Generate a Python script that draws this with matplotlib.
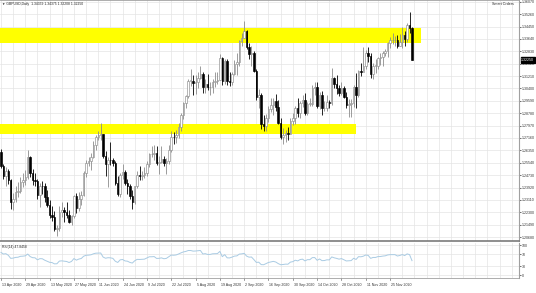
import numpy as np
import pandas as pd
import matplotlib
matplotlib.use("Agg")
import matplotlib.pyplot as plt
import matplotlib.transforms as mtransforms

plt.rcParams["font.family"] = ["Liberation Sans", "DejaVu Sans"]

# closes of the two weeks before the chart, only used to warm up the RSI
pre_closes = [1.1580, 1.1745, 1.1875, 1.2195, 1.2450, 1.2390, 1.2410, 1.2410,
              1.2405, 1.2265, 1.2265, 1.2355, 1.2405, 1.2455, 1.2455, 1.2625]

# GBPUSD daily bars, mid Apr 2020 - 7 Dec 2020 (one bar per weekday)
first_open = 1.2625
closes = [
    1.2530, 1.2470, 1.2500, 1.2440, 1.2300, 1.2315, 1.2360, 1.2370, 1.2430, 1.2440,
    1.2460, 1.2590, 1.2490, 1.2440, 1.2435, 1.2340, 1.2405, 1.2400, 1.2330, 1.2275,
    1.2215, 1.2200, 1.2120, 1.2125, 1.2235, 1.2245, 1.2230, 1.2215, 1.2165, 1.2205,
    1.2335, 1.2260, 1.2315, 1.2345, 1.2485, 1.2555, 1.2565, 1.2590, 1.2670, 1.2725,
    1.2735, 1.2740, 1.2595, 1.2545, 1.2575, 1.2570, 1.2550, 1.2420, 1.2350, 1.2475,
    1.2495, 1.2420, 1.2405, 1.2335, 1.2295, 1.2400, 1.2475, 1.2470, 1.2475, 1.2485,
    1.2545, 1.2610, 1.2610, 1.2620, 1.2555, 1.2560, 1.2580, 1.2550, 1.2565, 1.2635,
    1.2725, 1.2720, 1.2735, 1.2790, 1.2865, 1.2945, 1.2990, 1.3090, 1.3090, 1.3075,
    1.3085, 1.3110, 1.3135, 1.3050, 1.3070, 1.3050, 1.3050, 1.3085, 1.3090, 1.3095,
    1.3240, 1.3090, 1.3220, 1.3090, 1.3085, 1.3135, 1.3200, 1.3215, 1.3350, 1.3370,
    1.3415, 1.3310, 1.3265, 1.3275, 1.3155, 1.2985, 1.2995, 1.2805, 1.2795, 1.2850,
    1.2905, 1.2935, 1.2960, 1.2920, 1.2815, 1.2725, 1.2735, 1.2750, 1.2745, 1.2830,
    1.2850, 1.2915, 1.2880, 1.2945, 1.2965, 1.2880, 1.2940, 1.2940, 1.3045, 1.3050,
    1.2925, 1.2995, 1.2910, 1.2915, 1.2950, 1.2945, 1.3110, 1.3070, 1.3045, 1.3010,
    1.3040, 1.2985, 1.2930, 1.2940, 1.2945, 1.3050, 1.3000, 1.3155, 1.3150, 1.3190,
    1.3270, 1.3255, 1.3135, 1.3190, 1.3190, 1.3240, 1.3245, 1.3270, 1.3285, 1.3335,
    1.3355, 1.3355, 1.3355, 1.3320, 1.3345, 1.3390, 1.3365, 1.3455, 1.3435, 1.3225,
]
highs = [
    1.2647, 1.2545, 1.2525, 1.2515, 1.2445, 1.2355, 1.2405, 1.2425, 1.2460, 1.2485,
    1.2505, 1.2640, 1.2600, 1.2510, 1.2485, 1.2450, 1.2420, 1.2435, 1.2420, 1.2375,
    1.2310, 1.2270, 1.2240, 1.2145, 1.2270, 1.2295, 1.2265, 1.2295, 1.2245, 1.2210,
    1.2345, 1.2355, 1.2360, 1.2370, 1.2500, 1.2575, 1.2590, 1.2615, 1.2695, 1.2735,
    1.2765, 1.2813, 1.2745, 1.2630, 1.2590, 1.2690, 1.2585, 1.2565, 1.2465, 1.2490,
    1.2545, 1.2505, 1.2445, 1.2415, 1.2375, 1.2405, 1.2500, 1.2530, 1.2500, 1.2525,
    1.2565, 1.2615, 1.2665, 1.2670, 1.2665, 1.2595, 1.2665, 1.2600, 1.2585, 1.2670,
    1.2765, 1.2755, 1.2770, 1.2815, 1.2880, 1.2950, 1.3000, 1.3100, 1.3170, 1.3125,
    1.3125, 1.3145, 1.3185, 1.3145, 1.3105, 1.3135, 1.3080, 1.3105, 1.3145, 1.3145,
    1.3265, 1.3245, 1.3230, 1.3230, 1.3145, 1.3145, 1.3225, 1.3275, 1.3355, 1.3400,
    1.3482, 1.3420, 1.3335, 1.3320, 1.3285, 1.3165, 1.3035, 1.3010, 1.2865, 1.2870,
    1.2925, 1.2980, 1.2975, 1.3005, 1.2965, 1.2850, 1.2780, 1.2770, 1.2785, 1.2850,
    1.2880, 1.2925, 1.2975, 1.2955, 1.3000, 1.3010, 1.2950, 1.2980, 1.3065, 1.3085,
    1.3080, 1.3015, 1.3025, 1.2955, 1.3000, 1.2965, 1.3175, 1.3115, 1.3125, 1.3065,
    1.3080, 1.3055, 1.3015, 1.2970, 1.2970, 1.3060, 1.3140, 1.3160, 1.3210, 1.3312,
    1.3290, 1.3310, 1.3275, 1.3205, 1.3235, 1.3245, 1.3270, 1.3285, 1.3300, 1.3345,
    1.3375, 1.3400, 1.3385, 1.3390, 1.3395, 1.3440, 1.3415, 1.3470, 1.3540, 1.3440,
]
lows = [
    1.2520, 1.2445, 1.2405, 1.2415, 1.2250, 1.2245, 1.2300, 1.2330, 1.2355, 1.2395,
    1.2410, 1.2450, 1.2460, 1.2410, 1.2405, 1.2320, 1.2265, 1.2350, 1.2300, 1.2265,
    1.2190, 1.2170, 1.2105, 1.2076, 1.2110, 1.2200, 1.2165, 1.2190, 1.2160, 1.2145,
    1.2190, 1.2225, 1.2240, 1.2280, 1.2335, 1.2460, 1.2530, 1.2505, 1.2585, 1.2640,
    1.2700, 1.2700, 1.2585, 1.2470, 1.2395, 1.2540, 1.2530, 1.2410, 1.2335, 1.2330,
    1.2450, 1.2410, 1.2350, 1.2320, 1.2252, 1.2285, 1.2390, 1.2440, 1.2440, 1.2455,
    1.2470, 1.2525, 1.2590, 1.2575, 1.2540, 1.2480, 1.2550, 1.2530, 1.2480, 1.2545,
    1.2625, 1.2675, 1.2685, 1.2715, 1.2765, 1.2840, 1.2915, 1.2980, 1.3055, 1.3000,
    1.3005, 1.3045, 1.3105, 1.3010, 1.3010, 1.3030, 1.3000, 1.3010, 1.3050, 1.3070,
    1.3095, 1.3065, 1.3070, 1.3060, 1.3055, 1.3065, 1.3130, 1.3125, 1.3190, 1.3315,
    1.3370, 1.3300, 1.3235, 1.3185, 1.3150, 1.2965, 1.2915, 1.2775, 1.2765, 1.2765,
    1.2820, 1.2885, 1.2865, 1.2890, 1.2805, 1.2710, 1.2676, 1.2690, 1.2705, 1.2745,
    1.2800, 1.2805, 1.2855, 1.2845, 1.2920, 1.2865, 1.2865, 1.2925, 1.2925, 1.3000,
    1.2915, 1.2905, 1.2865, 1.2890, 1.2895, 1.2915, 1.2935, 1.3040, 1.3005, 1.2990,
    1.3000, 1.2975, 1.2915, 1.2855, 1.2855, 1.2920, 1.2915, 1.2985, 1.3120, 1.3160,
    1.3165, 1.3215, 1.3110, 1.3105, 1.3140, 1.3170, 1.3195, 1.3185, 1.3250, 1.3245,
    1.3305, 1.3330, 1.3320, 1.3305, 1.3315, 1.3305, 1.3315, 1.3345, 1.3400, 1.3225,
]

date_labels = ["13 Apr 2020", "29 Apr 2020", "13 May 2020", "27 May 2020",
               "11 Jun 2020", "24 Jun 2020", "9 Jul 2020", "22 Jul 2020",
               "5 Aug 2020", "19 Aug 2020", "2 Sep 2020", "16 Sep 2020",
               "30 Sep 2020", "14 Oct 2020", "28 Oct 2020", "11 Nov 2020",
               "25 Nov 2020"]
date_bars = [0, 10, 20, 30, 40, 50, 60, 70, 80, 90, 100, 110, 120, 130, 140, 150, 160]

price_ticks = [1.36070, 1.35260, 1.34450, 1.33640, 1.32830, 1.32020, 1.31210,
               1.30400, 1.29590, 1.28780, 1.27970, 1.27160, 1.26350, 1.25540,
               1.24730, 1.23920, 1.23110, 1.22300, 1.21490, 1.20680]

# support / resistance boxes: (low, high, last bar)
upper_zone = (1.3337, 1.3435, 172.5)
lower_zone = (1.2742, 1.2807, 146.0)

rsi_period = 14
rsi_ticks = [100, 70, 30, 0]

# --- data prep
closes = np.array(closes)
highs = np.array(highs)
lows = np.array(lows)
opens = np.concatenate([[first_open], closes[:-1]])
bars = np.arange(len(closes))

all_closes = pd.Series(np.concatenate([pre_closes, closes]))
delta = all_closes.diff().fillna(0)
gain = delta.clip(lower=0).ewm(alpha=1 / rsi_period, adjust=False).mean()
loss = (-delta.clip(upper=0)).ewm(alpha=1 / rsi_period, adjust=False).mean()
rsi = (100 - 100 / (1 + gain / loss.replace(0, np.nan))).values[len(pre_closes):]

W, H = 536, 293
fig = plt.figure(figsize=(W / 100, H / 100), dpi=100)
fig.patch.set_facecolor("white")

ax = fig.add_axes([0, 1 - 241 / H, 519 / W, 241 / H])
ax_rsi = fig.add_axes([0, 1 - 278 / H, 519 / W, 35 / H], sharex=ax)

grid_kw = dict(color="#e4e4e4", linewidth=0.5)
x_min, x_max = -0.4, 213.0
fs = 2.6

# --- price panel
ax.set_xlim(x_min, x_max)
ax.set_ylim(1.2042, 1.3619)
ax.set_facecolor("white")

for lo, hi, end in (upper_zone, lower_zone):
    ax.fill_between([x_min, end], lo, hi, color="#ffff00", zorder=1, linewidth=0)

up = closes >= opens
body_lo = np.minimum(opens, closes)
body_h = np.maximum(np.abs(closes - opens), 0.00025)
ax.vlines(bars[up], lows[up], highs[up], color="#8c8c8c", linewidth=0.6, zorder=2)
ax.vlines(bars[~up], lows[~up], highs[~up], color="black", linewidth=0.6, zorder=2)
ax.bar(bars[up], body_h[up], bottom=body_lo[up], width=0.62,
       facecolor="white", edgecolor="#8c8c8c", linewidth=0.45, zorder=3)
ax.bar(bars[~up], body_h[~up], bottom=body_lo[~up], width=0.62,
       facecolor="black", edgecolor="black", linewidth=0.45, zorder=3)

ax.yaxis.tick_right()
ax.set_yticks(price_ticks)
ax.set_yticklabels([f"{p:.5f}" for p in price_ticks])
ax.tick_params(axis="y", length=1.5, width=0.5, pad=0.8, labelsize=fs,
               colors="#333333")
ax.set_xticks(np.arange(0, x_max, 5))
ax.tick_params(axis="x", length=0, labelbottom=False)
ax.grid(True, **grid_kw)
ax.set_axisbelow(True)
ax.spines["left"].set_visible(False)
ax.spines["top"].set_color("#a0a0a0")
ax.spines["top"].set_linewidth(0.6)
ax.spines["right"].set_color("#a0a0a0")
ax.spines["right"].set_linewidth(0.8)
ax.spines["bottom"].set_color("#707070")
ax.spines["bottom"].set_linewidth(1.1)

ax.text(0.004, 0.992, "\u25bc GBPUSD,Daily  1.34359 1.34375 1.32208 1.32250",
        transform=ax.transAxes, fontsize=2.4, va="top", ha="left", color="#222222")
ax.text(0.99, 0.99, "Smart Orders", transform=ax.transAxes, fontsize=fs,
        va="top", ha="right", color="#222222")

last_price = closes[-1]
ax.annotate(f"{last_price:.5f}", xy=(1.0, last_price),
            xycoords=("axes fraction", "data"), xytext=(1.6, 0),
            textcoords="offset points", va="center", ha="left", fontsize=fs,
            color="white", annotation_clip=False,
            bbox=dict(boxstyle="square,pad=0.2", facecolor="black", edgecolor="black"))

# --- RSI panel
ax_rsi.set_ylim(-10, 106.7)
ax_rsi.plot(bars, rsi, color="#a9cbe3", linewidth=0.7)
ax_rsi.yaxis.tick_right()
ax_rsi.set_yticks(rsi_ticks)
ax_rsi.set_yticklabels([str(v) for v in rsi_ticks])
ax_rsi.tick_params(axis="y", length=1.5, width=0.5, pad=0.8, labelsize=fs,
                   colors="#333333")
ax_rsi.tick_params(axis="x", length=0, labelbottom=False)
ax_rsi.grid(True, **grid_kw)
ax_rsi.set_axisbelow(True)
ax_rsi.spines["left"].set_visible(False)
ax_rsi.spines["top"].set_visible(False)
ax_rsi.spines["right"].set_color("#a0a0a0")
ax_rsi.spines["right"].set_linewidth(0.8)
ax_rsi.spines["bottom"].set_color("#a0a0a0")
ax_rsi.spines["bottom"].set_linewidth(0.6)
ax_rsi.text(0.004, 0.94, f"RSI({rsi_period}) {rsi[-1]:.4f}",
            transform=ax_rsi.transAxes, fontsize=2.4, va="top", ha="left",
            color="#222222")

trans = mtransforms.blended_transform_factory(ax_rsi.transData, ax_rsi.transAxes)
for b, lab in zip(date_bars, date_labels):
    ax_rsi.plot([b, b], [0, -0.06], transform=trans, color="#707070",
                linewidth=0.5, clip_on=False)
    ax_rsi.text(b + 0.4, -0.14, lab, transform=trans, fontsize=fs,
                va="top", ha="left", color="#333333")

fig.savefig("out.png", dpi=100, facecolor="white")
